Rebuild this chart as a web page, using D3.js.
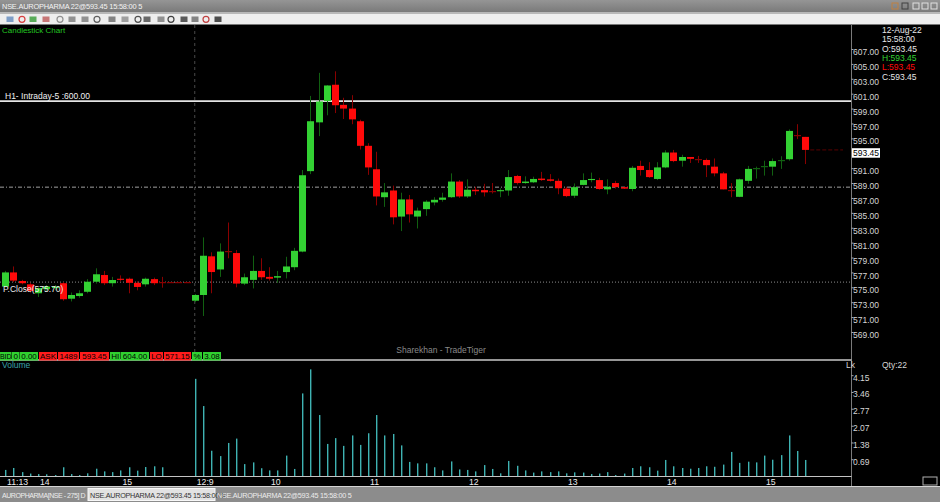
<!DOCTYPE html>
<html><head><meta charset="utf-8">
<script src="https://cdn.jsdelivr.net/npm/d3@7"></script>
<style>html,body{margin:0;padding:0;background:#000;overflow:hidden}svg{display:block;font-family:"Liberation Sans",Arial,sans-serif}</style>
</head><body><svg id="c" width="940" height="502"></svg>
<script>
// ---------------- DATA ----------------
const opens=[575.1,577.0,575.85,575.4,574.2,574.75,574.9,575.55,573.47,573.83,
574.4,575.75,576.65,575.55,576.15,576.15,575.6,575.4,576.1,575.75,
575.7,575.7,575.7,573.2,573.97,579.16,577.4,579.85,579.6,575.5,
576.0,577.2,576.4,576.3,577.05,577.7,579.8,590.6,597.15,600.0,
602.2,599.5,599.0,597.3,594.0,590.85,587.1,588.0,584.5,586.8,
584.5,585.5,586.4,586.75,587.1,589.2,587.2,588.1,588.05,588.0,
587.9,588.0,589.95,589.0,589.1,589.6,589.5,589.3,588.25,587.3,
588.75,589.4,589.4,588.15,589.0,588.45,588.2,591.3,590.75,589.55,
591.1,593.1,592.0,592.5,592.25,592.1,591.2,590.3,588.1,587.15,
589.3,590.95,591.2,591.2,592.1,592.2,595.5,595.2];
const highs=[577.2,577.8,576.0,575.6,575.0,575.3,575.3,575.7,574.3,574.6,
576.1,577.55,577.2,576.4,576.6,576.3,575.8,576.3,576.3,576.4,
575.7,575.7,575.7,574.1,581.7,579.7,580.9,583.7,580.0,576.85,
579.25,578.9,577.7,577.2,579.1,580.3,590.75,600.7,603.8,602.15,
604.0,600.45,600.8,597.5,594.35,593.2,589.0,588.65,587.7,587.4,
585.7,586.7,587.1,587.7,590.3,589.4,589.5,588.5,588.9,589.0,
588.3,590.75,590.1,589.9,589.85,590.5,590.2,589.6,588.5,588.95,
590.3,590.4,589.7,589.5,589.3,588.5,591.3,592.0,591.8,591.8,
593.4,593.45,592.8,592.5,592.65,592.3,592.3,590.5,589.0,589.6,
591.3,591.2,592.0,592.3,592.6,596.2,596.9,595.2];
const lows=[575.0,575.7,575.4,574.3,573.7,574.5,574.6,573.2,573.1,573.6,
574.2,575.5,575.3,575.1,575.8,574.2,574.6,575.1,575.3,574.95,
575.7,575.7,575.7,573.0,571.15,574.2,576.4,578.9,575.0,575.3,
574.85,576.0,575.9,575.6,576.2,577.3,579.7,590.2,595.3,598.1,
598.4,597.6,596.9,593.5,590.1,586.0,585.8,583.45,582.55,583.7,
582.9,584.6,586.0,586.5,587.0,587.0,587.0,587.4,587.2,587.6,
587.1,587.3,588.8,588.9,589.0,589.3,589.2,587.5,587.1,587.0,
588.7,589.1,588.1,587.5,588.25,588.2,587.9,590.0,589.7,589.4,
591.0,591.8,591.2,591.7,591.7,589.8,589.9,588.15,587.1,587.1,
588.9,589.6,590.0,590.0,590.9,592.0,594.9,591.55];
const closes=[577.0,575.9,575.55,574.5,574.9,575.1,575.1,573.4,573.97,574.2,
575.75,576.75,575.55,575.98,576.0,575.6,575.05,576.15,575.55,575.7,
575.7,575.7,575.7,573.97,579.24,577.05,579.8,579.8,575.5,576.35,
577.2,576.35,576.15,576.5,577.8,579.9,590.05,597.3,599.95,602.1,
599.45,599.0,597.55,594.0,591.1,587.2,587.75,584.4,586.8,584.8,
585.3,586.5,586.75,587.05,589.2,587.2,588.1,587.9,587.75,587.95,
588.05,589.8,589.0,589.2,589.55,589.4,589.3,588.3,587.25,588.45,
589.4,589.55,588.2,588.5,588.45,588.25,591.05,590.75,589.8,591.1,
593.1,591.95,592.5,592.25,592.2,591.4,590.3,588.15,588.05,589.5,
590.9,591.0,591.25,591.95,592.15,596.0,595.45,593.45];
const volumes=[0.25,0.33,0.16,0.10,0.08,0.07,0.04,0.36,0.08,0.04,
0.11,0.30,0.19,0.16,0.23,0.36,0.22,0.37,0.40,0.36,
0,0,0,4.00,2.88,1.04,0.82,1.36,1.54,0.49,
0.56,0.32,0.23,0.23,0.84,0.29,3.40,4.39,2.51,1.32,
1.56,1.24,1.67,1.28,1.76,2.51,1.67,1.73,1.26,0.58,
0.52,0.52,0.36,0.23,0.60,0.27,0.25,0.19,0.45,0.29,
0.11,0.62,0.42,0.23,0.14,0.19,0.16,0.19,0.11,0.15,
0.14,0.08,0.10,0.16,0.04,0.10,0.33,0.40,0.36,0.22,
0.66,0.40,0.33,0.30,0.33,0.40,0.38,0.47,0.99,0.54,
0.59,0.56,0.84,0.67,0.86,1.67,1.03,0.66];
const priceTicks=[607,605,603,601,599,597,595,591,589,587,585,583,581,579,577,575,573,571,569];
const volTickLabels=["0.69","1.38","2.07","2.77","3.46","4.15"];
const timeTickIdx=[0,4,14,23,32,44,56,68,80,92];
const timeTickLabels=["11:13","14","15","12:9","10","11","12","13","14","15"];
const dayBreakIdx=23;
const lastPrice=593.45, prevClose=575.70, h1Level=600.00, pivotLevel=588.45;
const infoLines=["12-Aug-22","15:58:00","O:593.45","H:593.45","L:593.45","C:593.45"];
const quoteBoxes=[["BID","g"],["0","g"],["0.00","g"],["ASK","r"],["1489","r"],["593.45","r"],["HI","g"],["604.00","g"],["LO","r"],["571.15","r"],["%","g"],["3.08","g"]];
const titleText="NSE.AUROPHARMA 22@593.45 15:58:00 5";

// ---------------- DRAW ----------------
const svg=d3.select("#c");
const W=940,H=502, axisX=851.5;
const GREEN="#33d133", RED="#ff0a0a", DGREEN="#116011", DRED="#8a0000", TEAL="#3fb3b3";
const x=d3.scaleLinear().domain([0,97]).range([5,805.25]);
const y=d3.scaleLinear().domain([569,607]).range([332,49]);
const yv=d3.scaleLinear().domain([0,4.15]).range([476,375.2]);

svg.append("rect").attr("width",W).attr("height",H).attr("fill","#000");

// title bar
const tg=svg.append("defs").append("linearGradient").attr("id","tb").attr("x1",0).attr("y1",0).attr("x2",0).attr("y2",1);
tg.append("stop").attr("offset","0").attr("stop-color","#959595");
tg.append("stop").attr("offset","1").attr("stop-color","#7a7a7a");
svg.append("rect").attr("x",0).attr("y",0).attr("width",W).attr("height",12).attr("fill","url(#tb)");
svg.append("rect").attr("x",0).attr("y",12).attr("width",W).attr("height",2).attr("fill","#b8b8b8");
svg.append("text").attr("x",2).attr("y",9).attr("font-size",7.4).attr("letter-spacing",-0.2).attr("fill","#f4f4f4").text(titleText);
[[895,"#c08040"],[905,"#404040"],[916,"#e0e0e0"],[925,"#e0e0e0"],[934,"#e0e0e0"]].forEach(([cx,c])=>{
  svg.append("rect").attr("x",cx-3).attr("y",3).attr("width",6).attr("height",6).attr("fill","none").attr("stroke",c).attr("stroke-width",1);
});
// toolbar
svg.append("rect").attr("x",0).attr("y",14).attr("width",W).attr("height",10.5).attr("fill","#eeeeee");
const icons=[[10,"#6a8fc0"],[22,"#d84040"],[33,"#40a040"],[46,"#c06060"],[60,"#909090"],[72,"#808080"],[85,"#808080"],[97,"#606060"],[112,"#707070"],[125,"#909090"],[138,"#505050"],[147,"#505050"],[161,"#808080"],[171,"#404040"],[184,"#404040"],[195,"#707070"],[206,"#c04040"],[218,"#303030"]];
icons.forEach(([cx,c],k)=>{
  if(k%3===1) svg.append("circle").attr("cx",cx).attr("cy",19.3).attr("r",3).attr("fill","none").attr("stroke",c).attr("stroke-width",1.2);
  else svg.append("rect").attr("x",cx-3.5).attr("y",16.5).attr("width",7).attr("height",5.5).attr("fill",c).attr("opacity",0.85);
});

// candle panel decorations
svg.append("text").attr("x",2).attr("y",33).attr("font-size",8).attr("fill","#22c422").text("Candlestick Chart");
svg.append("line").attr("x1",x(dayBreakIdx)).attr("x2",x(dayBreakIdx)).attr("y1",25).attr("y2",352)
  .attr("stroke","#4a4a4a").attr("stroke-dasharray","3,3");
svg.append("line").attr("x1",0).attr("x2",axisX).attr("y1",y(pivotLevel)).attr("y2",y(pivotLevel))
  .attr("stroke","#a0a0a0").attr("stroke-dasharray","4,2,1,2");
svg.append("line").attr("x1",0).attr("x2",axisX).attr("y1",y(prevClose)).attr("y2",y(prevClose))
  .attr("stroke","#8c8c8c").attr("stroke-dasharray","1,2");
svg.append("line").attr("x1",0).attr("x2",axisX).attr("y1",y(h1Level)).attr("y2",y(h1Level))
  .attr("stroke","#e4e4e4").attr("stroke-width",1.8);
svg.append("text").attr("x",5).attr("y",y(h1Level)-2.5).attr("font-size",8.5).attr("fill","#f0f0f0").text("H1- Intraday-5 :"+h1Level.toFixed(2));

// candles
const idx=d3.range(opens.length);
const cg=svg.append("g");
idx.forEach(i=>{
  const up=closes[i]>opens[i];
  const cx=Math.round(x(i));
  cg.append("line").attr("x1",cx+0.5).attr("x2",cx+0.5).attr("y1",y(highs[i])).attr("y2",y(lows[i]))
    .attr("stroke",up?DGREEN:DRED).attr("stroke-width",1);
  const top=y(Math.max(opens[i],closes[i])), bot=y(Math.min(opens[i],closes[i]));
  if(bot-top<1){
    cg.append("rect").attr("x",cx-3).attr("y",Math.round(top)).attr("width",7).attr("height",1.2).attr("fill",up?DGREEN:DRED);
  } else {
    cg.append("rect").attr("x",cx-3).attr("y",top).attr("width",7).attr("height",bot-top).attr("fill",up?GREEN:RED);
  }
});
svg.append("line").attr("x1",x(97)+5).attr("x2",843).attr("y1",y(lastPrice)).attr("y2",y(lastPrice))
  .attr("stroke","#5a0000").attr("stroke-dasharray","4,2");
svg.append("text").attr("x",3).attr("y",y(prevClose)+9.5).attr("font-size",8.5).attr("fill","#ececec").text("P.Close("+prevClose.toFixed(2)+")");

// price axis
svg.append("line").attr("x1",axisX).attr("x2",axisX).attr("y1",25).attr("y2",486).attr("stroke","#7a7a7a");
const pa=svg.append("g").attr("transform",`translate(${axisX},0)`).call(d3.axisRight(y).tickValues(priceTicks).tickFormat(d3.format(".2f")).tickSize(2));
pa.select(".domain").remove();
pa.selectAll("line").attr("stroke","#aaa");
pa.selectAll("text").attr("x",1.5).attr("dy",0).attr("y",5.6).attr("font-size",8.5).attr("fill","#d6d6d6").attr("font-family","Liberation Sans,Arial,sans-serif");
svg.append("rect").attr("x",852).attr("y",y(lastPrice)-1.7).attr("width",28).attr("height",9.5).attr("fill","#fff");
svg.append("text").attr("x",853).attr("y",y(lastPrice)+5.8).attr("font-size",8.5).attr("fill","#000").text(lastPrice.toFixed(2));
const infoCols=["#e8e8e8","#e8e8e8","#e8e8e8",GREEN,RED,"#e8e8e8"];
infoLines.forEach((t,k)=>{
  svg.append("text").attr("x",882).attr("y",33+k*9.3).attr("font-size",8.5).attr("fill",infoCols[k]).text(t);
});

// watermark
svg.append("text").attr("x",441).attr("y",353).attr("text-anchor","middle").attr("font-size",8.5).attr("fill","#8a8a8a").text("Sharekhan - TradeTiger");

// panel separator
svg.append("line").attr("x1",0).attr("x2",axisX).attr("y1",360).attr("y2",360).attr("stroke","#c8c8c8").attr("stroke-width",1.6);
// quote boxes
const boxX=[0,12,20,39,58,80,110,121,150,164,192,203], boxW=[11.5,7.5,18,18,21,29,10.5,28,13,27,10,18];
quoteBoxes.forEach(([t,c],k)=>{
  svg.append("rect").attr("x",boxX[k]).attr("y",352).attr("width",boxW[k]).attr("height",8.5).attr("fill",c==="g"?"#30d030":"#ff1c1c");
  svg.append("text").attr("x",boxX[k]+boxW[k]/2).attr("y",359).attr("text-anchor","middle").attr("font-size",k===0?7:8).attr("fill","#000").text(t);
});

// volume panel
svg.append("text").attr("x",2).attr("y",368).attr("font-size",8.5).attr("fill","#3aa0a8").text("Volume");
svg.append("text").attr("x",846).attr("y",368).attr("font-size",8.5).attr("fill","#d6d6d6").text("Lk");
svg.append("text").attr("x",882).attr("y",368).attr("font-size",8.5).attr("fill","#d6d6d6").text("Qty:22");
svg.append("g").selectAll("rect").data(idx.filter(i=>volumes[i]>0)).join("rect")
  .attr("x",i=>Math.round(x(i))).attr("width",1.4)
  .attr("y",i=>yv(volumes[i])).attr("height",i=>yv(0)-yv(volumes[i])).attr("fill",TEAL);
const va=svg.append("g").attr("transform",`translate(${axisX},0)`).call(d3.axisRight(yv).tickValues(volTickLabels.map(Number)).tickFormat((d,k)=>volTickLabels[k]).tickSize(2));
va.select(".domain").remove();
va.selectAll("line").attr("stroke","#aaa");
va.selectAll("text").attr("x",1.5).attr("dy",0).attr("y",5).attr("font-size",8.5).attr("fill","#d6d6d6").attr("font-family","Liberation Sans,Arial,sans-serif");
svg.append("line").attr("x1",0).attr("x2",axisX).attr("y1",476.5).attr("y2",476.5).attr("stroke","#c4c4c4");

// time axis
const ta=svg.append("g").attr("transform","translate(0,476)").call(d3.axisBottom(x).tickValues(timeTickIdx).tickFormat((d,k)=>timeTickLabels[k]).tickSize(0));
ta.select(".domain").remove();
ta.selectAll("text").attr("text-anchor","start").attr("x",1.5).attr("dy",0).attr("y",8.8).attr("font-size",8.7).attr("fill","#ececec").attr("font-family","Liberation Sans,Arial,sans-serif");
svg.append("rect").attr("x",923).attr("y",477).attr("width",14).attr("height",8).attr("fill","none").attr("stroke","#b0b0b0");

// bottom bar
svg.append("rect").attr("x",0).attr("y",486).attr("width",W).attr("height",16).attr("fill","#8c8c8c");
svg.append("line").attr("x1",0).attr("x2",W).attr("y1",486.5).attr("y2",486.5).attr("stroke","#d4d4d4");
svg.append("text").attr("x",2).attr("y",497.5).attr("font-size",7).attr("letter-spacing",-0.45).attr("fill","#ececec").text("AUROPHARMA[NSE - 275] D");
svg.append("rect").attr("x",88).attr("y",488.5).attr("width",127).attr("height",12).attr("fill","#e2e2e2").attr("stroke","#f8f8f8");
svg.append("text").attr("x",90).attr("y",497.5).attr("font-size",7.2).attr("letter-spacing",-0.25).attr("fill","#333").text(titleText);
svg.append("text").attr("x",217).attr("y",497.5).attr("font-size",7.2).attr("letter-spacing",-0.25).attr("fill","#ececec").text(titleText);
</script></body></html>
